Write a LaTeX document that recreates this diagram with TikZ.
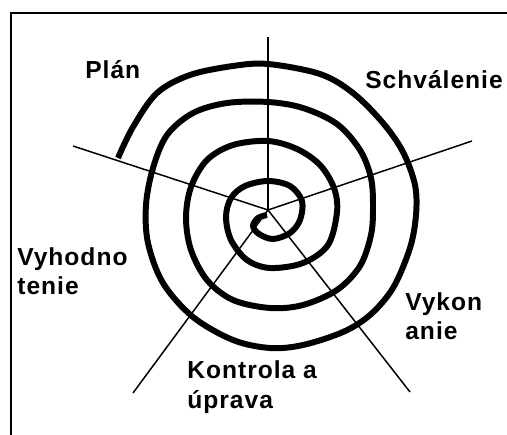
\documentclass[tikz,border=0pt]{standalone}
\usepackage{fontspec}
\setmainfont[LetterSpace=4]{Liberation Sans}

\tikzset{
	spirala/.style={line width=3.4pt},
	luc/.style={line width=0.85pt},
	ram/.style={line width=1.1pt},
	etapa/.style={font=\bfseries\fontsize{14}{17}\selectfont, align=left, inner sep=0pt, anchor=base west}
}

\begin{document}
\begin{tikzpicture}[x=0.02cm, y=-0.02cm]

\useasboundingbox (0,0) rectangle (507,435);

% Ram
	\draw[ram] (11,435) -- (11,13) -- (507,13);

% Luce
	\coordinate (S) at (268,210);
	\coordinate (L1) at (268,37);
	\coordinate (L2) at (472,141);
	\coordinate (L3) at (410,392);
	\coordinate (L4) at (133,393);
	\coordinate (L5) at (73,146);
	\foreach \k in {1,...,5}
		\draw[luc] (S) -- (L\k);

% Spirala
	\draw[spirala] plot[smooth, tension=0.55] coordinates {
		(118,158) (133,127) (157,93) (190,75) (233,66) (268,64) (320,74)
		(353,93) (383,123) (403,152) (415,185) (416,215) (410,248) (393,288)
		(370,315) (343,332) (303,345) (270,348) (233,340) (193,317) (163,283)
		(148,243) (146,205) (153,168) (167,135) (193,113) (227,103) (268,102)
		(303,108) (337,124) (360,150) (371,178) (373,207) (371,235) (360,266)
		(337,290) (303,305) (270,308) (233,300) (207,280) (191,250) (186,218)
		(191,187) (207,160) (233,145) (268,141) (297,149) (320,165) (334,188)
		(337,212) (328,245) (303,263) (270,268) (247,260) (231,240) (226,217)
		(231,198) (245,186) (268,181) (290,186) (302,201) (300,220) (290,233)
		(273,239) (259,234) (253,226) (258,218) (267,215)};

% Etapy (pri dvoch riadkoch je base na poslednom riadku)
	\node[etapa] (plan) at (85,79) {Plán};
	\node[etapa] (schvalenie) at (365,89) {Schválenie};
	\node[etapa] (vykonanie) at (405,340) {Vykon\\anie};
	\node[etapa] (kontrola) at (187,408) {Kontrola a\\úprava};
	\node[etapa] (vyhodnotenie) at (17,295) {Vyhodno\\tenie};

\end{tikzpicture}
\end{document}
